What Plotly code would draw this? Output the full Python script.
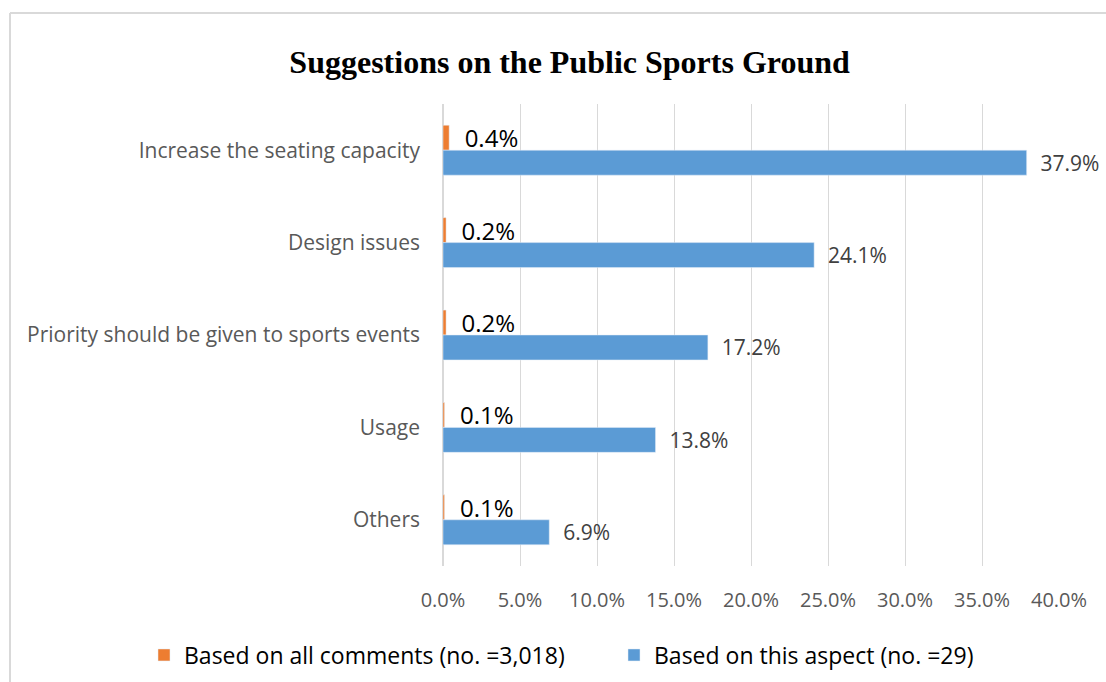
import plotly.graph_objs as go

# Datos
categorias = ["Increase the seating capacity", "Design issues",
              "Priority should be given to sports events", "Usage", "Others"]
todos_comentarios = [0.4, 0.2, 0.2, 0.1, 0.1]
este_aspecto = [37.9, 24.1, 17.2, 13.8, 6.9]
nombre_todos = "Based on all comments (no. =3,018)"
nombre_aspecto = "Based on this aspect (no. =29)"
titulo = "Suggestions on the Public Sports Ground"

fuente = "Open Sans"
gris_texto = "#595959"

fig = go.Figure()

# Barras naranjas (todos los comentarios)
fig.add_trace(go.Bar(y=categorias, x=todos_comentarios, orientation="h", name=nombre_todos,
                     marker=dict(color="#ED7D31"), text=todos_comentarios,
                     texttemplate="  %{x:.1f}%", textposition="outside",
                     textfont=dict(family=fuente, size=24, color="#000000"),
                     constraintext="none", cliponaxis=False, legend="legend"))

# Barras azules (este aspecto)
fig.add_trace(go.Bar(y=categorias, x=este_aspecto, orientation="h", name=nombre_aspecto,
                     marker=dict(color="#5B9BD5"), text=este_aspecto,
                     texttemplate="  %{x:.1f}%", textposition="outside",
                     textfont=dict(family=fuente, size=21, color="#404040"),
                     constraintext="none", cliponaxis=False, legend="legend2"))

# Marco gris alrededor del grafico
izq, der, arriba, abajo = 443, 47, 104, 116
ancho_plot = 1106 - izq - der
alto_plot = 682 - arriba - abajo
marco_x = (10 - izq) / ancho_plot
marco_y = (566 - 13) / alto_plot
fig.add_shape(type="line", xref="paper", yref="paper", x0=marco_x, x1=1.2, y0=marco_y, y1=marco_y,
              line=dict(color="#D9D9D9", width=2))
fig.add_shape(type="line", xref="paper", yref="paper", x0=marco_x, x1=marco_x, y0=marco_y, y1=-0.5,
              line=dict(color="#D9D9D9", width=2))

leyenda = dict(orientation="h", xref="container", yref="container", y=1 - 655 / 682,
               xanchor="left", yanchor="middle", itemwidth=30,
               font=dict(family=fuente, size=23, color="#000000"))

fig.update_layout(
    width=1106, height=682,
    margin=dict(l=izq, r=der, t=arriba, b=abajo),
    paper_bgcolor="white", plot_bgcolor="white",
    title=dict(text="<b>" + titulo + "</b>", x=0.515, xref="container", xanchor="center",
               y=1 - 62 / 682, yref="container", yanchor="middle",
               font=dict(family="Liberation Serif", size=32, color="#000000")),
    barmode="group", bargap=0.46, bargroupgap=0,
    xaxis=dict(range=[0, 40], dtick=5, tickformat=".1f", ticksuffix="%",
               showgrid=True, gridcolor="#D9D9D9", gridwidth=1,
               zeroline=True, zerolinecolor="#D9D9D9", zerolinewidth=2,
               showline=False, ticks="", ticklabelstandoff=20,
               tickfont=dict(family=fuente, size=20, color=gris_texto)),
    yaxis=dict(autorange="reversed", showgrid=False, showline=False, ticks="",
               ticklabelstandoff=22,
               tickfont=dict(family=fuente, size=21, color=gris_texto)),
    legend=dict(leyenda, x=144 / 1106),
    legend2=dict(leyenda, x=614 / 1106),
    showlegend=True,
)

fig.write_html("out.html", config={"displayModeBar": False},
               post_script="document.body.style.margin='0';")
